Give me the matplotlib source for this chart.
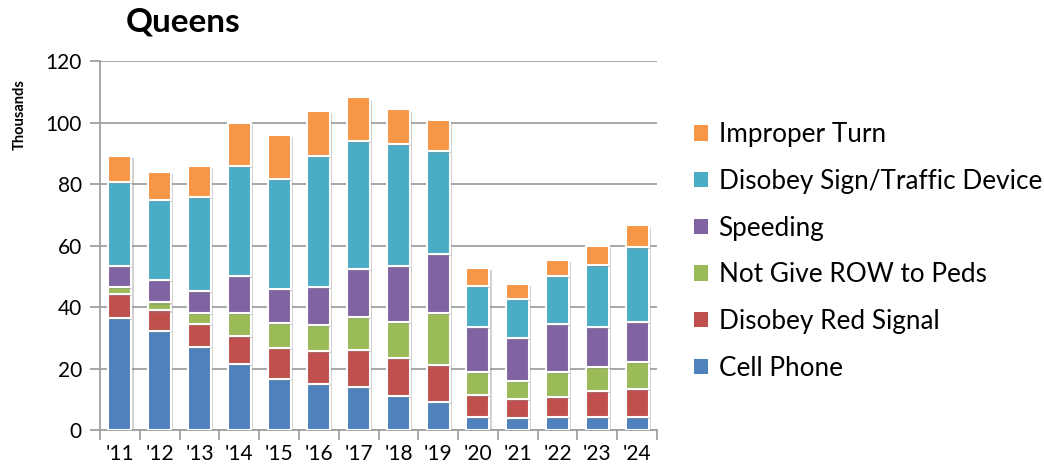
import matplotlib.pyplot as plt
import matplotlib.patheffects as pe
from matplotlib.patches import Patch
import numpy as np

plt.rcParams['font.family'] = ['Lato', 'DejaVu Sans']

years = ["'11", "'12", "'13", "'14", "'15", "'16", "'17", "'18", "'19",
         "'20", "'21", "'22", "'23", "'24"]

# values in thousands (segment sizes)
cell_phone = [36.6, 32.1, 26.9, 21.5, 16.7, 15.0, 14.1, 11.1, 9.2, 4.3, 3.9, 4.3, 4.3, 4.2]
red_signal = [7.8, 6.8, 7.6, 9.0, 10.0, 10.8, 11.9, 12.2, 12.0, 7.2, 6.3, 6.4, 8.5, 9.1]
row_peds = [2.2, 2.6, 3.5, 7.5, 8.1, 8.5, 10.9, 11.8, 16.8, 7.3, 5.8, 8.2, 7.8, 8.8]
speeding = [6.9, 7.2, 7.2, 12.2, 11.1, 12.2, 15.6, 18.2, 19.4, 14.7, 14.0, 15.6, 12.8, 13.1]
sign_device = [27.1, 26.1, 30.6, 35.8, 35.8, 42.6, 41.5, 39.8, 33.4, 13.5, 12.6, 15.6, 20.4, 24.4]
improper_turn = [8.6, 9.1, 10.1, 13.8, 14.2, 14.6, 14.2, 11.2, 10.1, 5.8, 4.8, 5.1, 6.2, 7.1]

series = [
    ('Cell Phone', cell_phone, '#4F81BD'),
    ('Disobey Red Signal', red_signal, '#C0504D'),
    ('Not Give ROW to Peds', row_peds, '#9BBB59'),
    ('Speeding', speeding, '#8064A2'),
    ('Disobey Sign/Traffic Device', sign_device, '#4BACC6'),
    ('Improper Turn', improper_turn, '#F79646'),
]

fig = plt.figure(figsize=(10.44, 4.71), dpi=100)
ax = fig.add_axes([0.0958, 0.087, 0.5335, 0.783])

x = np.arange(len(years))
bottom = np.zeros(len(years))
shadow = [pe.SimplePatchShadow(offset=(1.5, -1.5), shadow_rgbFace='#808080', alpha=0.35), pe.Normal()]
for name, vals, color in series:
    bars = ax.bar(x, vals, 0.58, bottom=bottom, color=color, edgecolor='white',
                  linewidth=1.5, zorder=3)
    for b in bars:
        b.set_path_effects(shadow)
    bottom += np.array(vals)

ax.set_xlim(-0.5, len(years) - 0.5)
ax.set_ylim(0, 120)
ax.set_yticks(range(0, 121, 20))
ax.set_xticks(x)
ax.set_xticklabels(years, fontsize=15)
ax.tick_params(axis='y', labelsize=15, length=7, color='#A0A0A0', width=1.3, pad=6)
ax.tick_params(axis='x', length=0, pad=10)
ax.set_xticks(np.arange(-0.5, len(years)), minor=True)
ax.tick_params(axis='x', which='minor', length=7, color='#A0A0A0', width=1.3)
ax.yaxis.grid(True, color='#A0A0A0', linewidth=1.3, zorder=0)
ax.set_axisbelow(True)
for s in ['top', 'right']:
    ax.spines[s].set_visible(False)
for s in ['left', 'bottom']:
    ax.spines[s].set_color('#A0A0A0')
    ax.spines[s].set_linewidth(1.3)

fig.text(0.175, 0.953, 'Queens', fontsize=24, fontweight='bold', ha='center', va='center')
fig.text(0.019, 0.757, 'Thousands', fontsize=10.5, fontweight='bold', rotation=90,
         ha='center', va='center')

handles = [Patch(facecolor=c, edgecolor='none') for _, _, c in series][::-1]
labels = [n for n, _, _ in series][::-1]
ax.legend(handles, labels, loc='center left', bbox_to_anchor=(1.024, 0.484),
          frameon=False, fontsize=18.8, handlelength=0.53, handleheight=0.53,
          handletextpad=0.42, labelspacing=0.83)

fig.savefig('out.png', dpi=100)
